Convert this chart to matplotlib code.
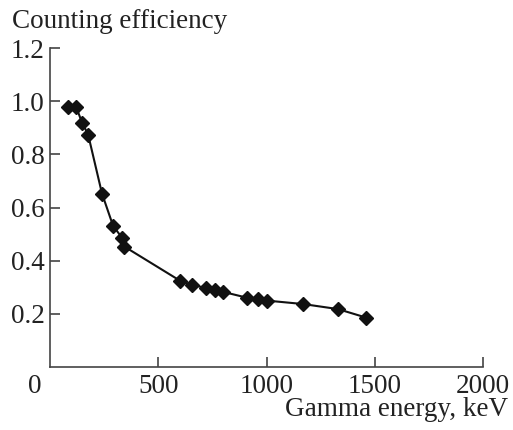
import matplotlib
matplotlib.use("Agg")
from matplotlib import pyplot as plt

# Gamma energy (keV) vs counting efficiency
energy = [83, 120, 148, 176, 240, 291, 332, 344, 600, 656, 720, 762, 798,
          909, 962, 1001, 1169, 1330, 1460]
efficiency = [0.98, 0.98, 0.92, 0.875, 0.653, 0.532, 0.487, 0.453, 0.325,
              0.309, 0.298, 0.29, 0.283, 0.261, 0.257, 0.25, 0.237, 0.218,
              0.186]

x_ticks = [500, 1000, 1500, 2000]
y_ticks = [0.2, 0.4, 0.6, 0.8, 1.0, 1.2]

plt.rcParams["font.family"] = ["Liberation Serif", "DejaVu Serif"]
plt.rcParams["font.size"] = 19.5

fig = plt.figure(figsize=(5.13, 4.30), dpi=100)
ax = fig.add_axes([0.0975, 0.1465, 0.844, 0.7415])

ax.plot(energy, efficiency, color="#111111", linewidth=1.5,
        marker="D", markersize=7.5)

ax.set_xlim(0, 2000)
ax.set_ylim(0, 1.2)
ax.set_xticks(x_ticks)
ax.set_yticks(y_ticks)
ax.set_yticklabels(["%.1f" % v for v in y_ticks])

for side in ["top", "right"]:
    ax.spines[side].set_visible(False)
for side in ["left", "bottom"]:
    ax.spines[side].set_color("#444444")
    ax.spines[side].set_linewidth(1.2)
ax.tick_params(direction="in", length=7, width=1.2, color="#444444",
               labelcolor="#222222")
ax.tick_params(axis="x", pad=5)
ax.tick_params(axis="y", pad=4)

# origin label sits left of the corner
ax.text(-70, -0.025, "0", ha="center", va="top", color="#222222")

fig.text(0.023, 0.951, "Counting efficiency", ha="left", va="center",
         color="#222222")
fig.text(0.99, 0.047, "Gamma energy, keV", ha="right", va="center",
         color="#222222")

fig.savefig("out.png", dpi=100)
